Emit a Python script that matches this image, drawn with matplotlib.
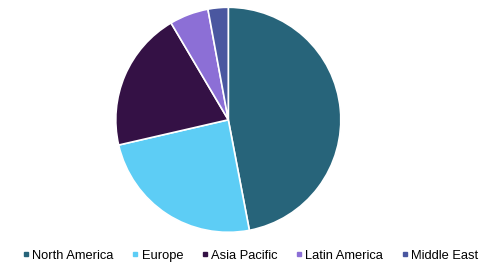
import matplotlib
matplotlib.use("Agg")
import matplotlib.pyplot as plt
from matplotlib.lines import Line2D

plt.rcParams['font.family'] = ['Liberation Sans', 'DejaVu Sans']

regions = ["North America", "Europe", "Asia Pacific", "Latin America", "Middle East"]
shares = [47.0, 24.4, 20.1, 5.6, 2.9]
colors = ["#27647A", "#5DCDF5", "#341145", "#8C6FD6", "#4A57A0"]

W, H = 482, 268
fig = plt.figure(figsize=(W / 100, H / 100), dpi=100)
cx, cy, r = 228.3, 119.8, 112.5
ax = fig.add_axes([(cx - r) / W, (H - cy - r) / H, 2 * r / W, 2 * r / H])
ax.pie(shares, colors=colors, startangle=90, counterclock=False,
       wedgeprops=dict(edgecolor="white", linewidth=1.2), radius=1.0)
ax.set_xlim(-1, 1)
ax.set_ylim(-1, 1)
ax.set_aspect("equal")
ax.axis("off")

handles = [Line2D([0], [0], marker="s", linestyle="none", markersize=3.2,
                  markerfacecolor=c, markeredgecolor=c) for c in colors]
fig.legend(handles, regions, loc="center", bbox_to_anchor=(251 / W, 1 - 256 / H),
           ncol=5, frameon=False, fontsize=9.3, handlelength=0.35,
           handletextpad=0.3, columnspacing=1.5, borderpad=0, borderaxespad=0)

fig.savefig("out.png", dpi=100, facecolor="white")
